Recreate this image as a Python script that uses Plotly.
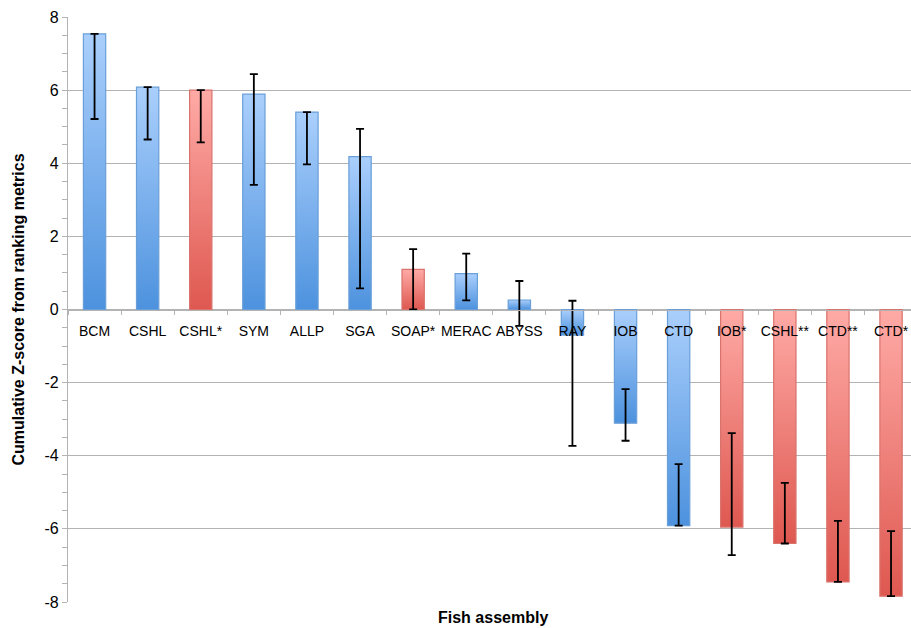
import plotly.graph_objects as go

# Fish assemblies ranked by cumulative Z-score
assemblies = ["BCM", "CSHL", "CSHL*", "SYM", "ALLP", "SGA", "SOAP*", "MERAC",
              "ABYSS", "RAY", "IOB", "CTD", "IOB*", "CSHL**", "CTD**", "CTD*"]
z_scores = [7.54, 6.08, 6.00, 5.89, 5.40, 4.18, 1.10, 0.98,
            0.26, -0.70, -3.11, -5.91, -5.95, -6.40, -7.45, -7.84]
err_plus = [0.00, 0.00, 0.00, 0.55, 0.00, 0.76, 0.55, 0.55,
            0.52, 0.94, 0.93, 1.68, 2.57, 1.66, 1.67, 1.78]
err_minus = [2.33, 1.43, 1.43, 2.48, 1.43, 3.60, 1.10, 0.73,
             0.71, 3.03, 0.48, 0.00, 0.77, 0.00, 0.00, 0.00]
y_ticks = [-8, -6, -4, -2, 0, 2, 4, 6, 8]
y_tick_labels = ["-8", "-6", "-4", "-2", "0", "2", "4", "6", "8"]

BLUE = dict(light="#aacffc", dark="#4d92de", edge="#6a9fd8")
RED = dict(light="#ffaaa6", dark="#de5850", edge="#d9736d")
GRID = "#b3b3b3"
FONT = "Liberation Sans, Arial, Helvetica, sans-serif"
BAR_W = 0.42

fig = go.Figure()

# Each bar is a filled rectangle with a vertical gradient (light end at the top)
for i, (name, v) in enumerate(zip(assemblies, z_scores)):
    pal = RED if "*" in name else BLUE
    x0, x1 = i - BAR_W / 2, i + BAR_W / 2
    fig.add_trace(go.Scatter(
        x=[x0, x1, x1, x0, x0],
        y=[0, 0, v, v, 0],
        mode="lines",
        fill="toself",
        line=dict(color=pal["edge"], width=1.2),
        fillgradient=dict(
            type="vertical",
            start=min(0, v),
            stop=max(0, v),
            colorscale=[[0, pal["dark"]], [1, pal["light"]]],
        ),
        hoverinfo="skip",
        showlegend=False,
    ))

# Asymmetric error bars
fig.add_trace(go.Scatter(
    x=list(range(len(assemblies))),
    y=z_scores,
    mode="markers",
    marker=dict(size=1, color="rgba(0,0,0,0)"),
    error_y=dict(type="data", symmetric=False, array=err_plus,
                 arrayminus=err_minus, color="black", thickness=1.8, width=4),
    text=assemblies,
    hovertemplate="%{text}: %{y}<extra></extra>",
    showlegend=False,
))

n = len(assemblies)
fig.update_layout(
    width=911, height=628,
    margin=dict(l=68, r=0, t=17, b=26),
    paper_bgcolor="white", plot_bgcolor="white",
    font=dict(family=FONT, color="black"),
    xaxis=dict(
        range=[-0.5, 15.376],
        tickmode="array",
        tickvals=list(range(n)),
        ticktext=assemblies,
        ticks="",
        tickfont=dict(size=14, family=FONT),
        ticklabelstandoff=9,
        showgrid=False,
        zeroline=False,
        showline=True, linecolor=GRID, linewidth=1.3,
        anchor="free", position=0.5,
        minor=dict(tickvals=[k - 0.5 for k in range(n + 1)], ticks="outside",
                   ticklen=4, tickcolor=GRID, tickwidth=1.2, showgrid=False),
        fixedrange=True,
    ),
    yaxis=dict(
        range=[-8, 8],
        tickmode="array",
        tickvals=y_ticks,
        ticktext=y_tick_labels,
        ticks="outside", ticklen=5, tickcolor=GRID, tickwidth=1.2,
        tickfont=dict(size=16, family=FONT),
        showgrid=True, gridcolor=GRID, gridwidth=1.3,
        zeroline=False,
        showline=True, linecolor=GRID, linewidth=1.3,
        minor=dict(dtick=0.5, ticks="outside", ticklen=5, tickcolor=GRID,
                   tickwidth=1.2, showgrid=False),
        fixedrange=True,
    ),
    annotations=[
        dict(text="<b>Fish assembly</b>", xref="x", yref="paper",
             x=(n - 1) / 2, y=-0.026, xanchor="center", yanchor="middle",
             showarrow=False, font=dict(size=16, family=FONT)),
        dict(text="<b>Cumulative Z-score from ranking metrics</b>",
             xref="paper", yref="paper", x=-0.0593, y=0.5, textangle=-90,
             xanchor="center", yanchor="middle", showarrow=False,
             font=dict(size=16, family=FONT)),
    ],
)

fig.write_html("out.html")
